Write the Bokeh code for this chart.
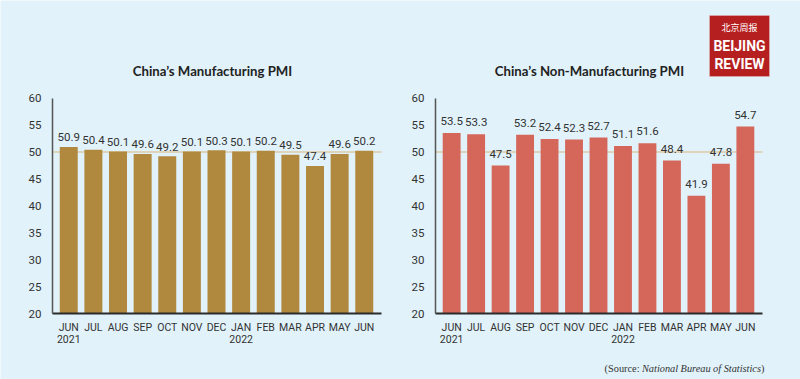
from bokeh.plotting import figure
from bokeh.models import (ColumnDataSource, Label, FixedTicker, BoxAnnotation,
                          LinearAxis, Range1d)
from bokeh.embed import file_html
from bokeh.resources import INLINE
from bokeh.core.properties import value

months = ["JUN\n2021", "JUL", "AUG", "SEP", "OCT", "NOV", "DEC",
          "JAN\n2022", "FEB", "MAR", "APR", "MAY", "JUN"]
manufacturing = [50.9, 50.4, 50.1, 49.6, 49.2, 50.1, 50.3, 50.1, 50.2, 49.5, 47.4, 49.6, 50.2]
non_manufacturing = [53.5, 53.3, 47.5, 53.2, 52.4, 52.3, 52.7, 51.1, 51.6, 48.4, 41.9, 47.8, 54.7]
y_ticks = [20, 25, 30, 35, 40, 45, 50, 55, 60]
titles = ["China\u2019s Manufacturing PMI", "China\u2019s Non-Manufacturing PMI"]

BG = "#e1f2fa"
TXT = "#333333"
W, H = 800, 379
Y_LO, Y_HI = 20, 60
PLOT_TOP, PLOT_BOTTOM = 97.5, 313.3          # pixel rows of y=60 and y=20
N = len(months)
X0, X1 = -0.66, N - 1 + 0.70                  # category extent of each plot area

ppu_y = (PLOT_BOTTOM - PLOT_TOP) / (Y_HI - Y_LO)


def py2y(py):
    return Y_HI + (PLOT_TOP - py) / ppu_y


def x_mapper(plot_left, plot_right):
    ppu_x = (plot_right - plot_left) / (X1 - X0)
    return lambda px: X0 + (px - plot_left) / ppu_x


lx = x_mapper(52, 381)      # left chart plot area (px)
rx = x_mapper(435, 762)     # right chart plot area (px)

p = figure(width=W, height=H, x_range=(lx(0), lx(W)), y_range=(py2y(H), py2y(0)),
           output_backend="svg", toolbar_location=None, min_border=0,
           background_fill_color=BG, border_fill_color=BG, outline_line_color=None)
p.extra_x_ranges = {"right": Range1d(rx(0), rx(W))}
p.title.visible = False
p.xgrid.visible = False
p.ygrid.visible = False

right_xaxis = LinearAxis(x_range_name="right")
right_yaxis = LinearAxis(x_range_name="right")
p.add_layout(right_xaxis, "below")
p.add_layout(right_yaxis, "left")


def draw_chart(values, color, rname, xaxis, yaxis, label_gap):
    xs = list(range(N))
    p.segment(x0=[X0], x1=[X1], y0=[50], y1=[50], line_color="#dccaa6",
              line_width=1.5, x_range_name=rname)
    src = ColumnDataSource(dict(x=xs, top=values,
                                label=[f"{v:.1f}" for v in values],
                                ly=[v + label_gap for v in values]))
    p.vbar(x="x", top="top", bottom=Y_LO, width=0.73, source=src,
           fill_color=color, line_color=None, x_range_name=rname)
    p.text(x="x", y="ly", text="label", source=src, text_align="center",
           text_baseline="alphabetic", text_font=value("Roboto"),
           text_font_size="11.5px", text_color=TXT, x_range_name=rname)

    xaxis.ticker = FixedTicker(ticks=xs)
    xaxis.major_label_overrides = {i: m for i, m in enumerate(months)}
    xaxis.fixed_location = Y_LO
    xaxis.bounds = (X0, X1)
    yaxis.ticker = FixedTicker(ticks=y_ticks)
    yaxis.fixed_location = X0
    yaxis.bounds = (Y_LO, Y_HI)
    for ax in (xaxis, yaxis):
        ax.major_tick_line_color = None
        ax.minor_tick_line_color = None
        ax.major_label_text_font = "Roboto"
        ax.major_label_text_color = TXT
    xaxis.major_label_text_font_size = "10.5px"
    xaxis.major_label_text_line_height = 0.92
    yaxis.major_label_text_font_size = "11.5px"
    xaxis.axis_line_color = "#2b2b2b"
    xaxis.axis_line_width = 2
    yaxis.axis_line_color = "#555555"
    yaxis.axis_line_width = 1.5
    xaxis.major_label_standoff = 1
    yaxis.major_label_standoff = 5


draw_chart(manufacturing, "#b0893f", "default", p.xaxis[0], p.yaxis[0], 1.8)
draw_chart(non_manufacturing, "#d4675a", "right", right_xaxis, right_yaxis, 2.2)

# chart titles
for t, px in zip(titles, [212, 589]):
    p.add_layout(Label(x=lx(px), y=py2y(70), text=t, text_align="center",
                       text_baseline="middle", text_font="Lato",
                       text_font_style="bold", text_font_size="13.2px",
                       text_color="#222222"))

# Beijing Review logo (top right)
p.add_layout(BoxAnnotation(left=lx(709), right=lx(769), top=py2y(15), bottom=py2y(76),
                           fill_color="#b51f1f", fill_alpha=1.0,
                           line_color="#f3dede", line_width=1, level="underlay"))
p.add_layout(Label(x=lx(739), y=py2y(26.5), text="北京周报", text_align="center",
                   text_baseline="middle", text_font="Noto Sans CJK SC",
                   text_font_size="9px", text_color="white"))
p.add_layout(Label(x=lx(739), y=py2y(45.5), text="BEIJING", text_align="center",
                   text_baseline="middle", text_font="Roboto", text_font_style="bold",
                   text_font_size="14px", text_color="white"))
p.add_layout(Label(x=lx(739), y=py2y(63), text="REVIEW", text_align="center",
                   text_baseline="middle", text_font="Roboto", text_font_style="bold",
                   text_font_size="14px", text_color="white"))

# source note
p.add_layout(Label(x=lx(639), y=py2y(368), text="(Source:", text_align="right",
                   text_baseline="middle", text_font="Liberation Serif",
                   text_font_size="10.3px", text_color=TXT))
p.add_layout(Label(x=lx(641.5), y=py2y(368), text="National Bureau of Statistics",
                   text_align="left", text_baseline="middle",
                   text_font="Liberation Serif", text_font_style="italic",
                   text_font_size="10.3px", text_color=TXT))
p.add_layout(Label(x=lx(760.5), y=py2y(368), text=")", text_align="left",
                   text_baseline="middle", text_font="Liberation Serif",
                   text_font_size="10.3px", text_color=TXT))

open("out.html", "w").write(file_html(p, INLINE))
